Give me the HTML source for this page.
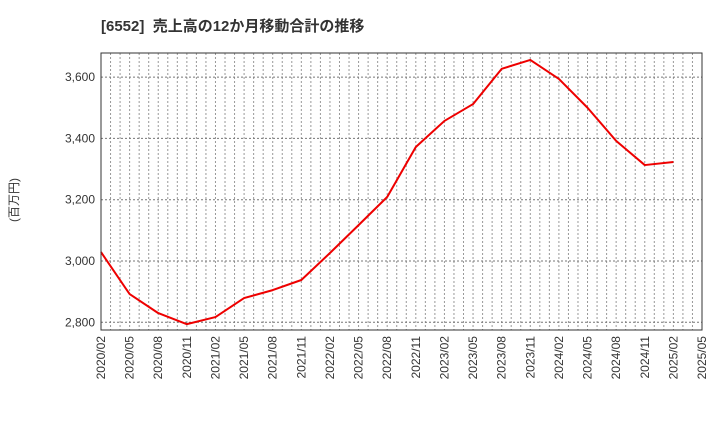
<!DOCTYPE html>
<html><head><meta charset="utf-8"><style>
body{margin:0;background:#fff;}
svg text{font-family:"Liberation Sans","Noto Sans CJK JP",sans-serif;}
</style></head><body>
<svg width="720" height="440" xmlns="http://www.w3.org/2000/svg">
<text x="101" y="31" font-size="15" font-weight="bold" fill="#333">[6552]&#160; 売上高の12か月移動合計の推移</text>
<text transform="translate(18,200) rotate(-90)" font-size="12" fill="#333" text-anchor="middle">(百万円)</text>
<g id="grid"></g>
<g id="axes"></g>
<g id="series"></g>
<rect x="101" y="53" width="601" height="277" fill="none" stroke="#333" stroke-width="1"/>
</svg>
<script>
const xLabels=["2020/02","2020/05","2020/08","2020/11","2021/02","2021/05","2021/08","2021/11","2022/02","2022/05","2022/08","2022/11","2023/02","2023/05","2023/08","2023/11","2024/02","2024/05","2024/08","2024/11","2025/02","2025/05"];
const yTicks=[2800,3000,3200,3400,3600];
const values=[3029,2892,2830,2794,2817,2879,2905,2938,3026,3117,3209,3372,3457,3512,3627,3656,3594,3500,3392,3313,3323];
const NS="http://www.w3.org/2000/svg";
const L=101,R=702,T=53,B=330;
const step=(R-L)/(xLabels.length-1);
const xAt=i=>L+i*step;
const yAt=v=>261-(v-3000)*(61.3/200);
const grid=document.getElementById('grid'),axes=document.getElementById('axes'),ser=document.getElementById('series');
function mk(tag,attrs,parent){const e=document.createElementNS(NS,tag);for(const k in attrs)e.setAttribute(k,attrs[k]);parent.appendChild(e);return e;}
for(let m=1;m<(xLabels.length-1)*3;m++){
  const x=L+m*step/3;
  const g=mk('line',{x1:x,x2:x,y1:T,y2:B,stroke:'#999','stroke-dasharray':'2,2','stroke-width':1},grid);
  
  
}
yTicks.forEach(v=>{
  const y=yAt(v);
  const g=mk('line',{x1:L,x2:R,y1:y,y2:y,stroke:'#777','stroke-dasharray':'2,2','stroke-width':1},grid);
  
  
  const t=mk('text',{x:L-6,y:y+4,'font-size':12,'text-anchor':'end',fill:'#333'},axes);
  t.textContent=v.toLocaleString('en-US');
  
  
});
xLabels.forEach((s,i)=>{
  const x=xAt(i);
  const t=mk('text',{transform:`translate(${x+4},${B+6}) rotate(-90)`,'font-size':12,'text-anchor':'end',fill:'#333'},axes);
  t.textContent=s;
  
  
});
const p=mk('polyline',{points:values.map((v,i)=>xAt(i)+','+yAt(v)).join(' '),fill:'none',stroke:'#e00','stroke-width':2,'stroke-linejoin':'round'},ser);


</script>
</body></html>
